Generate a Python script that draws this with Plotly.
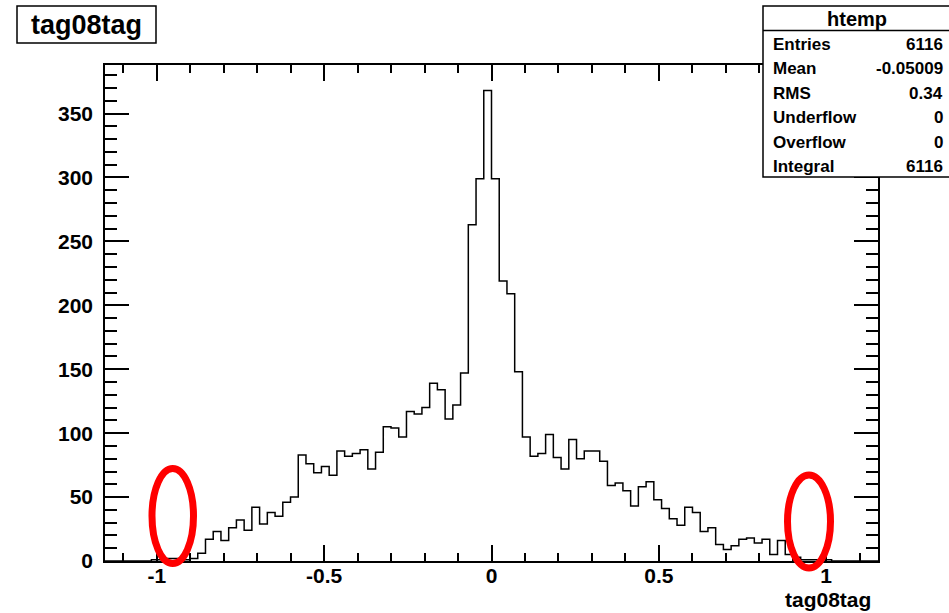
import numpy as np
import plotly.graph_objects as go

# ---- data ----
x_min, x_max, n_bins = -1.155, 1.155, 100
counts = [0, 0, 0, 0, 0, 0, 1, 1, 2, 2,
          1, 2, 6, 17, 23, 16, 26, 32, 24, 42,
          29, 38, 35, 46, 50, 83, 76, 69, 74, 67,
          86, 82, 84, 87, 72, 85, 105, 104, 97, 117,
          115, 120, 139, 134, 111, 122, 147, 263, 299, 368,
          299, 219, 209, 148, 97, 82, 84, 99, 81, 72,
          95, 80, 86, 86, 78, 59, 61, 55, 43, 58,
          62, 48, 41, 33, 28, 42, 38, 23, 26, 13,
          9, 12, 17, 18, 14, 17, 5, 16, 5, 3,
          1, 1, 1, 1, 0, 0, 0, 0, 0, 0]
x_ticks = [-1, -0.5, 0, 0.5, 1]
x_tick_labels = ["-1", "-0.5", "0", "0.5", "1"]
y_ticks = [0, 50, 100, 150, 200, 250, 300, 350]
title_text = "tag08tag"
xaxis_title = "tag08tag"
stats_name = "htemp"
stats_labels = ["Entries", "Mean", "RMS", "Underflow", "Overflow", "Integral"]
stats_values = ["6116", "-0.05009", "0.34", "0", "0", "6116"]

# ---- layout geometry ----
W, H = 949, 613
ML, MR, MT, MB = 105, 71, 65, 52
PW, PH = W - ML - MR, H - MT - MB


def px(x):
    return (x - ML) / PW


def py(y):
    return (H - MB - y) / PH


edges = np.linspace(x_min, x_max, n_bins + 1)
xs = list(edges)
ys = list(counts) + [counts[-1]]

FONT = "Liberation Sans"

fig = go.Figure()
fig.add_trace(go.Scatter(x=xs, y=ys, mode="lines", line_shape="hv",
                         line=dict(color="black", width=1.5),
                         hoverinfo="skip", showlegend=False))

fig.update_layout(
    width=W, height=H,
    margin=dict(l=ML, r=MR, t=MT, b=MB),
    paper_bgcolor="white", plot_bgcolor="white",
    showlegend=False,
    xaxis=dict(range=[x_min, x_max], tickmode="array", tickvals=x_ticks,
               ticktext=x_tick_labels, ticks="inside", ticklen=16, tickwidth=1.5,
               tickcolor="black", showline=True, linecolor="black", linewidth=1.5,
               mirror="allticks", showgrid=False, zeroline=False,
               tickfont=dict(family=FONT, size=21, color="black", weight="bold"),
               ticklabelstandoff=-5,
               minor=dict(dtick=0.1, tick0=0, ticks="inside", ticklen=8,
                          tickwidth=1.5, tickcolor="black", showgrid=False)),
    yaxis=dict(range=[0, 388], tickmode="array", tickvals=y_ticks,
               ticks="inside", ticklen=24, tickwidth=1.5,
               tickcolor="black", showline=True, linecolor="black", linewidth=1.5,
               mirror="allticks", showgrid=False, zeroline=False,
               tickfont=dict(family=FONT, size=21, color="black", weight="bold"),
               ticklabelstandoff=6,
               minor=dict(dtick=10, tick0=0, ticks="inside", ticklen=12,
                          tickwidth=1.5, tickcolor="black", showgrid=False)),
)

shapes = []
annotations = []

# title box
shapes.append(dict(type="rect", xref="paper", yref="paper",
                   x0=px(17), x1=px(156), y0=py(43), y1=py(6),
                   line=dict(color="black", width=1.5), fillcolor="white",
                   layer="above"))
annotations.append(dict(xref="paper", yref="paper", x=px(86.5), y=py(24.5),
                        text=title_text, showarrow=False,
                        xanchor="center", yanchor="middle",
                        font=dict(family=FONT, size=27, color="black", weight="bold")))

# stats box
shapes.append(dict(type="rect", xref="paper", yref="paper",
                   x0=px(763), x1=px(955), y0=py(177), y1=py(6),
                   line=dict(color="black", width=1.5), fillcolor="white",
                   layer="above"))
shapes.append(dict(type="line", xref="paper", yref="paper",
                   x0=px(763), x1=px(955), y0=py(30.5), y1=py(30.5),
                   line=dict(color="black", width=1.5), layer="above"))
annotations.append(dict(xref="paper", yref="paper", x=px(857), y=py(18.5),
                        text=stats_name, showarrow=False,
                        xanchor="center", yanchor="middle",
                        font=dict(family=FONT, size=20, color="black", weight="bold")))
for i, (lab, val) in enumerate(zip(stats_labels, stats_values)):
    yy = 44.3 + i * 24.5
    annotations.append(dict(xref="paper", yref="paper", x=px(771), y=py(yy),
                            text=lab, showarrow=False, xanchor="left", yanchor="middle",
                            font=dict(family=FONT, size=17, color="black", weight="bold")))
    annotations.append(dict(xref="paper", yref="paper", x=px(945), y=py(yy),
                            text=val, showarrow=False, xanchor="right", yanchor="middle",
                            font=dict(family=FONT, size=17, color="black", weight="bold")))

# x axis title
annotations.append(dict(xref="paper", yref="paper", x=px(873), y=py(599),
                        text=xaxis_title, showarrow=False,
                        xanchor="right", yanchor="middle",
                        font=dict(family=FONT, size=21, color="black", weight="bold")))

# red ellipses
for (x0, x1, y0, y1) in [(152, 193.5, 468.5, 563.5), (787.5, 830.5, 475, 568)]:
    shapes.append(dict(type="circle", xref="paper", yref="paper",
                       x0=px(x0), x1=px(x1), y0=py(y1), y1=py(y0),
                       line=dict(color="#ff0000", width=7), layer="above"))

fig.update_layout(shapes=shapes, annotations=annotations)
fig.write_html("out.html")
